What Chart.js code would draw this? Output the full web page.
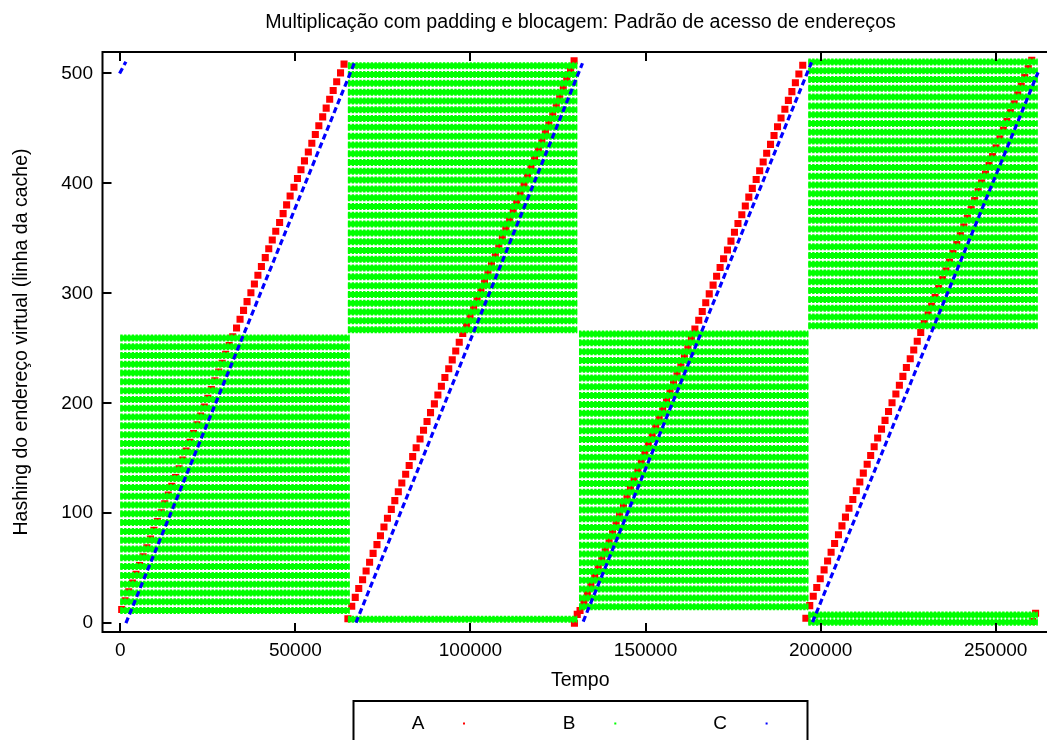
<!DOCTYPE html>
<html>
<head>
<meta charset="utf-8">
<title>Padrão de acesso de endereços</title>
<script src="https://cdn.jsdelivr.net/npm/chart.js@4"></script>
<style>
    html, body { margin: 0; padding: 0; background: #fff; overflow: hidden; width: 1047px; height: 740px; }
    canvas { display: block; }
</style>
</head>
<body>
<canvas id="grafico" width="1161" height="740"></canvas>
<script>
const xTicks = [0, 50000, 100000, 150000, 200000, 250000];
const yTicks = [0, 100, 200, 300, 400, 500];
const legendNames = ['A', 'B', 'C'];

// Serie A: quadrados vermelhos, uma lista por rampa
const a1X = [400,1400,2400,3500,4500,5500,6500,7600,8600,9600,10600,11700,12700,13700,14700,15800,16800,17800,18800,19900,20900,21900,22900,24000,25000,26000,27000,28100,29100,30100,31100,32100,33200,34200,35200,36200,37300,38300,39300,40300,41400,42400,43400,44400,45500,46500,47500,48500,49600,50600,51600,52600,53700,54700,55700,56700,57800,58800,59800,60800,61800,62900,63900];
const a1Y = [12.5,20.5,28.5,36.5,44.5,52.5,60.5,68.5,76.5,84.5,92.5,100.5,108.5,116.5,124.5,132.5,140.5,148.5,156.5,164.5,172.5,180.5,188.5,196.5,204.5,212.5,220.5,228.5,236.5,244.5,252.5,260.5,268.5,276.5,284.5,292.5,300.5,308.5,316.5,324.5,332.5,340.5,348.5,356.5,364.5,372.5,380.5,388.5,396.5,404.5,412.5,420.5,428.5,436.5,444.5,452.5,460.5,468.5,476.5,484.5,492.5,500.5,508.5];
const a2X = [65000,66100,67100,68100,69200,70200,71200,72200,73300,74300,75300,76300,77400,78400,79400,80400,81500,82500,83500,84500,85600,86600,87600,88600,89700,90700,91700,92700,93800,94800,95800,96800,97800,98900,99900,100900,101900,103000,104000,105000,106000,107100,108100,109100,110100,111200,112200,113200,114200,115300,116300,117300,118300,119400,120400,121400,122400,123500,124500,125500,126500,127500,128600,129600];
const a2Y = [4,15.5,23.5,31.5,39.5,47.5,55.5,63.5,71.5,79.5,87.5,95.5,103.5,111.5,119.5,127.5,135.5,143.5,151.5,159.5,167.5,175.5,183.5,191.5,199.5,207.5,215.5,223.5,231.5,239.5,247.5,255.5,263.5,271.5,279.5,287.5,295.5,303.5,311.5,319.5,327.5,335.5,343.5,351.5,359.5,367.5,375.5,383.5,391.5,399.5,407.5,415.5,423.5,431.5,439.5,447.5,455.5,463.5,471.5,479.5,487.5,495.5,503.5,511.5];
const a3X = [129700,130500,131300,132400,133400,134400,135500,136500,137500,138500,139600,140600,141600,142600,143700,144700,145700,146700,147800,148800,149800,150800,151900,152900,153900,154900,156000,157000,158000,159000,160100,161100,162100,163100,164100,165200,166200,167200,168200,169300,170300,171300,172300,173400,174400,175400,176400,177500,178500,179500,180500,181600,182600,183600,184600,185700,186700,187700,188700,189800,190800,191800,192800,193800,194900];
const a3Y = [0,8,11.5,19.5,27.5,35.5,43.5,51.5,59.5,67.5,75.5,83.5,91.5,99.5,107.5,115.5,123.5,131.5,139.5,147.5,155.5,163.5,171.5,179.5,187.5,195.5,203.5,211.5,219.5,227.5,235.5,243.5,251.5,259.5,267.5,275.5,283.5,291.5,299.5,307.5,315.5,323.5,331.5,339.5,347.5,355.5,363.5,371.5,379.5,387.5,395.5,403.5,411.5,419.5,427.5,435.5,443.5,451.5,459.5,467.5,475.5,483.5,491.5,499.5,507.5];
const a4X = [195800,196900,197900,198900,199900,201000,202000,203000,204000,205100,206100,207100,208100,209200,210200,211200,212200,213300,214300,215300,216300,217400,218400,219400,220400,221500,222500,223500,224500,225600,226600,227600,228600,229600,230700,231700,232700,233700,234800,235800,236800,237800,238900,239900,240900,241900,243000,244000,245000,246000,247100,248100,249100,250100,251200,252200,253200,254200,255300,256300,257300,258300,259300,260300,260500,261400];
const a4Y = [4.5,16,24.5,32.5,40.5,48.5,56.5,64.5,72.5,80.5,88.5,96.5,104.5,112.5,120.5,128.5,136.5,144.5,152.5,160.5,168.5,176.5,184.5,192.5,200.5,208.5,216.5,224.5,232.5,240.5,248.5,256.5,264.5,272.5,280.5,288.5,296.5,304.5,312.5,320.5,328.5,336.5,344.5,352.5,360.5,368.5,376.5,384.5,392.5,400.5,408.5,416.5,424.5,432.5,440.5,448.5,456.5,464.5,472.5,480.5,488.5,496.5,504.5,512,1.5,9];

// Serie B: linhas horizontais verdes, cada bloco com as suas linhas
const b1Rows = [11.5,19.5,27.5,35.5,43.5,51.5,59.5,67.5,75.5,83.5,91.5,99.5,107.5,115.5,123.5,131.5,139.5,147.5,155.5,163.5,171.5,179.5,187.5,195.5,203.5,211.5,219.5,227.5,235.5,243.5,251.5,259.5];
const b2Rows = [3.6,267,275,283,291,299,307,315,323,331,339,347,355,363,371,379,387,395,403,411,419,427,435,443,451,459,467,475,483,491,499,507];
const b3Rows = [15,23,31,39,47,55,63,71,79,87,95,103,111,119,127,135,143,151,159,167,175,183,191,199,207,215,223,231,239,247,255,263];
const b4Rows = [0.8,7.5,270.5,278.5,286.5,294.5,302.5,310.5,318.5,326.5,334.5,342.5,350.5,358.5,366.5,374.5,382.5,390.5,398.5,406.5,414.5,422.5,430.5,438.5,446.5,454.5,462.5,470.5,478.5,486.5,494.5,502.5,510.5];
const b1Span = [0, 65500];
const b2Span = [65000, 130500];
const b3Span = [131000, 196500];
const b4Span = [196500, 262000];

// Serie C: rampas azuis tracejadas (inicio e fim de cada uma)
const cX = [-200, 1600, 1600, 67000, 67300, 132000, 132200, 197400, 197700, 262100];
const cY = [500, 510.7, 0, 510.7, 0.5, 509.3, 1.5, 510, 1, 501];

function pontos(xs, ys) {
    return xs.map((x, i) => ({ x: x, y: ys[i] }));
}

function linhas(rows, span) {
    const out = [];
    rows.forEach(y => {
        out.push({ x: span[0], y: y }, { x: span[1], y: y }, { x: null, y: null });
    });
    return out;
}

const serieA = [].concat(pontos(a1X, a1Y), pontos(a2X, a2Y), pontos(a3X, a3Y), pontos(a4X, a4Y));
const serieB = [].concat(linhas(b1Rows, b1Span), linhas(b2Rows, b2Span), linhas(b3Rows, b3Span), linhas(b4Rows, b4Span));
const serieC = [];
for (let i = 0; i < cX.length; i += 2) {
    serieC.push({ x: cX[i], y: cY[i] }, { x: cX[i + 1], y: cY[i + 1] }, { x: null, y: null });
}

// Moldura, ticks para dentro e a caixa da legenda (estilo gnuplot)
const molduraPlugin = {
    id: 'moldura',
    afterDraw(chart) {
        const ctx = chart.ctx;
        const area = chart.chartArea;
        ctx.save();
        ctx.strokeStyle = '#000';
        ctx.lineWidth = 2;
        ctx.beginPath();
        ctx.moveTo(area.right, area.top);
        ctx.lineTo(area.left, area.top);
        ctx.lineTo(area.left, area.bottom);
        ctx.lineTo(area.right, area.bottom);
        xTicks.forEach(v => {
            const px = Math.round(chart.scales.x.getPixelForValue(v));
            ctx.moveTo(px, area.bottom);
            ctx.lineTo(px, area.bottom - 9);
            ctx.moveTo(px, area.top);
            ctx.lineTo(px, area.top + 9);
        });
        yTicks.forEach(v => {
            const py = Math.round(chart.scales.y.getPixelForValue(v));
            ctx.moveTo(area.left, py);
            ctx.lineTo(area.left + 9, py);
        });
        ctx.stroke();

        // legenda
        ctx.strokeRect(353.5, 701, 454, 60);
        ctx.font = '19px "Liberation Sans"';
        ctx.textAlign = 'center';
        ctx.textBaseline = 'middle';
        const cores = ['#ff0000', '#00ff00', '#0000ff'];
        legendNames.forEach((nome, i) => {
            ctx.fillStyle = '#000';
            ctx.fillText(nome, 418 + i * 151, 724);
            ctx.fillStyle = cores[i];
            ctx.fillRect(463 + i * 151.3, 722.5, 2, 2);
        });
        ctx.restore();
    }
};

Chart.defaults.font.family = '"Liberation Sans"';
Chart.defaults.font.size = 19;
Chart.defaults.color = '#000';

new Chart(document.getElementById('grafico').getContext('2d'), {
    type: 'scatter',
    data: {
        datasets: [
            { label: 'A', data: serieA, order: 4, showLine: false, pointStyle: 'rect', pointRadius: 5, pointBorderWidth: 0, backgroundColor: '#ff0000' },
            { label: 'B', data: serieB, order: 3, showLine: true, spanGaps: false, pointRadius: 0, borderColor: '#00ff00', borderWidth: 7, borderDash: [2.4, 1.4] },
            { label: 'B', data: serieB, order: 2, showLine: true, spanGaps: false, pointRadius: 0, borderColor: '#00ff00', borderWidth: 5 },
            { label: 'C', data: serieC, order: 1, showLine: true, spanGaps: false, pointRadius: 0, borderColor: '#0000ff', borderWidth: 3.2, borderDash: [6, 3.5] }
        ]
    },
    options: {
        responsive: false,
        animation: false,
        events: [],
        plugins: {
            legend: { display: false },
            tooltip: { enabled: false },
            title: {
                display: true,
                text: 'Multiplicação com padding e blocagem: Padrão de acesso de endereços',
                font: { size: 19.6, weight: 'normal' },
                padding: { top: 11, bottom: 17.5 }
            }
        },
        scales: {
            x: {
                type: 'linear',
                min: -5083,
                max: 267800,
                grid: { display: false, drawTicks: false },
                border: { display: false },
                afterBuildTicks: s => { s.ticks = xTicks.map(v => ({ value: v })); },
                afterFit: s => { s.height = 108; },
                ticks: { padding: 7, maxRotation: 0, callback: v => String(v) },
                title: { display: true, text: 'Tempo', font: { size: 19.5 }, padding: { top: 0, bottom: 48 } }
            },
            y: {
                type: 'linear',
                min: -8,
                max: 519.5,
                grid: { display: false, drawTicks: false },
                border: { display: false },
                afterBuildTicks: s => { s.ticks = yTicks.map(v => ({ value: v })); },
                afterFit: s => { s.width = 102.5; },
                ticks: { padding: 9.5 },
                title: { display: true, text: 'Hashing do endereço virtual (linha da cache)', font: { size: 19.5 }, padding: { top: 10, bottom: 0 } }
            },
            // eixo vazio a direita, so para o titulo ficar centrado como no original
            direita: {
                type: 'linear',
                position: 'right',
                grid: { display: false, drawTicks: false },
                border: { display: false },
                ticks: { display: false },
                afterFit: s => { s.width = 103; }
            }
        }
    },
    plugins: [molduraPlugin]
});
</script>
</body>
</html>
